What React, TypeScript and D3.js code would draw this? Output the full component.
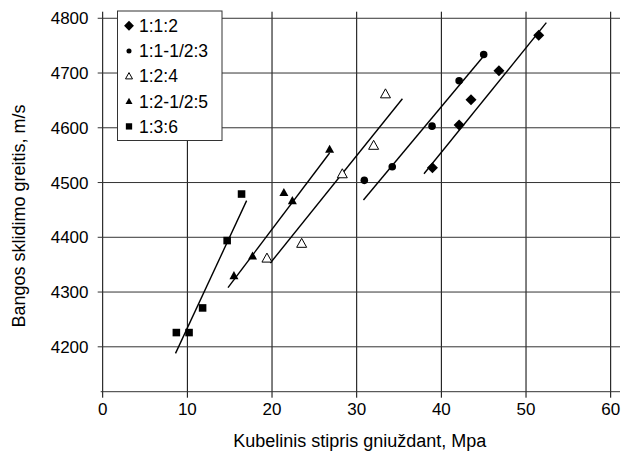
import React from "react";
import * as d3 from "d3";

const xTicks = [0, 10, 20, 30, 40, 50, 60];
const yTicks = [4200, 4300, 4400, 4500, 4600, 4700, 4800];

const seriesNames = ["1:1:2", "1:1-1/2:3", "1:2:4", "1:2-1/2:5", "1:3:6"];

const s112X = [38.95, 42.1, 43.5, 46.8, 51.5];
const s112Y = [4527, 4605, 4651, 4704, 4769];

const s1123X = [30.9, 34.2, 38.9, 42.1, 45.0];
const s1123Y = [4504, 4529, 4603, 4686, 4734];

const s124X = [19.4, 23.5, 28.3, 32.0, 33.4];
const s124Y = [4362, 4389, 4516, 4568, 4662];

const s12125X = [15.5, 17.7, 21.4, 22.4, 26.8];
const s12125Y = [4330, 4366, 4482, 4467, 4561];

const s136X = [8.7, 10.2, 11.8, 14.7, 16.4];
const s136Y = [4226, 4226, 4271, 4394, 4479];

// trend line endpoints [x1, y1, x2, y2]
const trend112 = [37.95, 4516, 52.4, 4792];
const trend1123 = [30.8, 4468, 45.0, 4731];
const trend124 = [19.8, 4353, 35.4, 4653];
const trend12125 = [14.8, 4308, 26.8, 4554];
const trend136 = [8.6, 4188, 17.0, 4467];

const W = 630;
const H = 453;
const FONT = "'Liberation Sans', Arial, sans-serif";

type Kind = "diamond" | "circle" | "triOpen" | "triFilled" | "square";

function Marker({ kind, x, y, s }: { kind: Kind; x: number; y: number; s: number }) {
  if (kind === "diamond") {
    const r = s * 0.55;
    return <path d={`M${x},${y - r}L${x + r},${y}L${x},${y + r}L${x - r},${y}Z`} fill="#000" />;
  }
  if (kind === "circle") {
    return <circle cx={x} cy={y} r={s * 0.42} fill="#000" />;
  }
  if (kind === "square") {
    const h = s * 0.42;
    return <rect x={x - h} y={y - h} width={2 * h} height={2 * h} fill="#000" />;
  }
  const h = s * 0.5;
  const d = `M${x},${y - h}L${x + h},${y + h * 0.8}L${x - h},${y + h * 0.8}Z`;
  if (kind === "triOpen") {
    return <path d={d} fill="#fff" stroke="#000" strokeWidth={1} />;
  }
  return <path d={d} fill="#000" />;
}

export default function App() {
  const x = d3.scaleLinear().domain([0, 61.1]).range([102.7, 620]);
  const y = d3.scaleLinear().domain([4118, 4812]).range([391.7, 11.7]);

  const series: { kind: Kind; xs: number[]; ys: number[]; t: number[] }[] = [
    { kind: "diamond", xs: s112X, ys: s112Y, t: trend112 },
    { kind: "circle", xs: s1123X, ys: s1123Y, t: trend1123 },
    { kind: "triOpen", xs: s124X, ys: s124Y, t: trend124 },
    { kind: "triFilled", xs: s12125X, ys: s12125Y, t: trend12125 },
    { kind: "square", xs: s136X, ys: s136Y, t: trend136 },
  ];

  const top = y.range()[1];
  const bottom = y.range()[0];
  const left = x.range()[0];
  const right = x.range()[1];

  const legendSizes = [9, 6, 7, 7, 7.5];

  return (
    <svg width={W} height={H} style={{ position: "absolute", left: 0, top: 0, background: "#fff" }}>
      <rect x={0} y={0} width={W} height={H} fill="#fff" />
      {/* vertical grid lines */}
      {xTicks.map((t) => (
        <line key={"vx" + t} x1={x(t)} x2={x(t)} y1={top} y2={bottom + 6} stroke="#000" strokeWidth={1} />
      ))}
      {/* horizontal grid lines */}
      {yTicks.map((t) => (
        <line key={"hy" + t} x1={left - 5} x2={right} y1={y(t)} y2={y(t)} stroke="#333" strokeWidth={1} />
      ))}
      {/* bottom axis */}
      <line x1={left - 2} x2={right} y1={bottom} y2={bottom} stroke="#333" strokeWidth={1} />
      {/* tick labels */}
      {xTicks.map((t) => (
        <text key={"tx" + t} x={x(t)} y={415} textAnchor="middle" fontFamily={FONT} fontSize={17} fill="#000">
          {t}
        </text>
      ))}
      {yTicks.map((t) => (
        <text key={"ty" + t} x={88.5} y={y(t)} dy="0.36em" textAnchor="end" fontFamily={FONT} fontSize={17} fill="#000">
          {t}
        </text>
      ))}
      {/* trend lines */}
      {series.map((s, i) => (
        <line
          key={"tr" + i}
          x1={x(s.t[0])}
          y1={y(s.t[1])}
          x2={x(s.t[2])}
          y2={y(s.t[3])}
          stroke="#000"
          strokeWidth={1.4}
        />
      ))}
      {/* markers */}
      {series.map((s, i) =>
        s.xs.map((v, j) => (
          <Marker key={"m" + i + "-" + j} kind={s.kind} x={x(v)} y={y(s.ys[j])} s={s.kind === "diamond" ? 10 : s.kind === "triOpen" ? 10 : 9} />
        ))
      )}
      {/* legend */}
      <rect x={117.5} y={11} width={104.5} height={129.5} fill="#fff" stroke="#333" strokeWidth={1} />
      {seriesNames.map((n, i) => {
        const cy = 25.8 + i * 25.15;
        return (
          <g key={"lg" + i}>
            <Marker kind={series[i].kind} x={129} y={cy} s={legendSizes[i]} />
            <text x={139} y={cy} dy="0.36em" fontFamily={FONT} fontSize={17.5} fill="#000">
              {n}
            </text>
          </g>
        );
      })}
      {/* axis titles */}
      <text x={359.7} y={447} textAnchor="middle" fontFamily={FONT} fontSize={18} fill="#000">
        Kubelinis stipris gniuždant, Mpa
      </text>
      <text transform="translate(25,216) rotate(-90)" textAnchor="middle" fontFamily={FONT} fontSize={18} fill="#000">
        Bangos sklidimo greitis, m/s
      </text>
    </svg>
  );
}
